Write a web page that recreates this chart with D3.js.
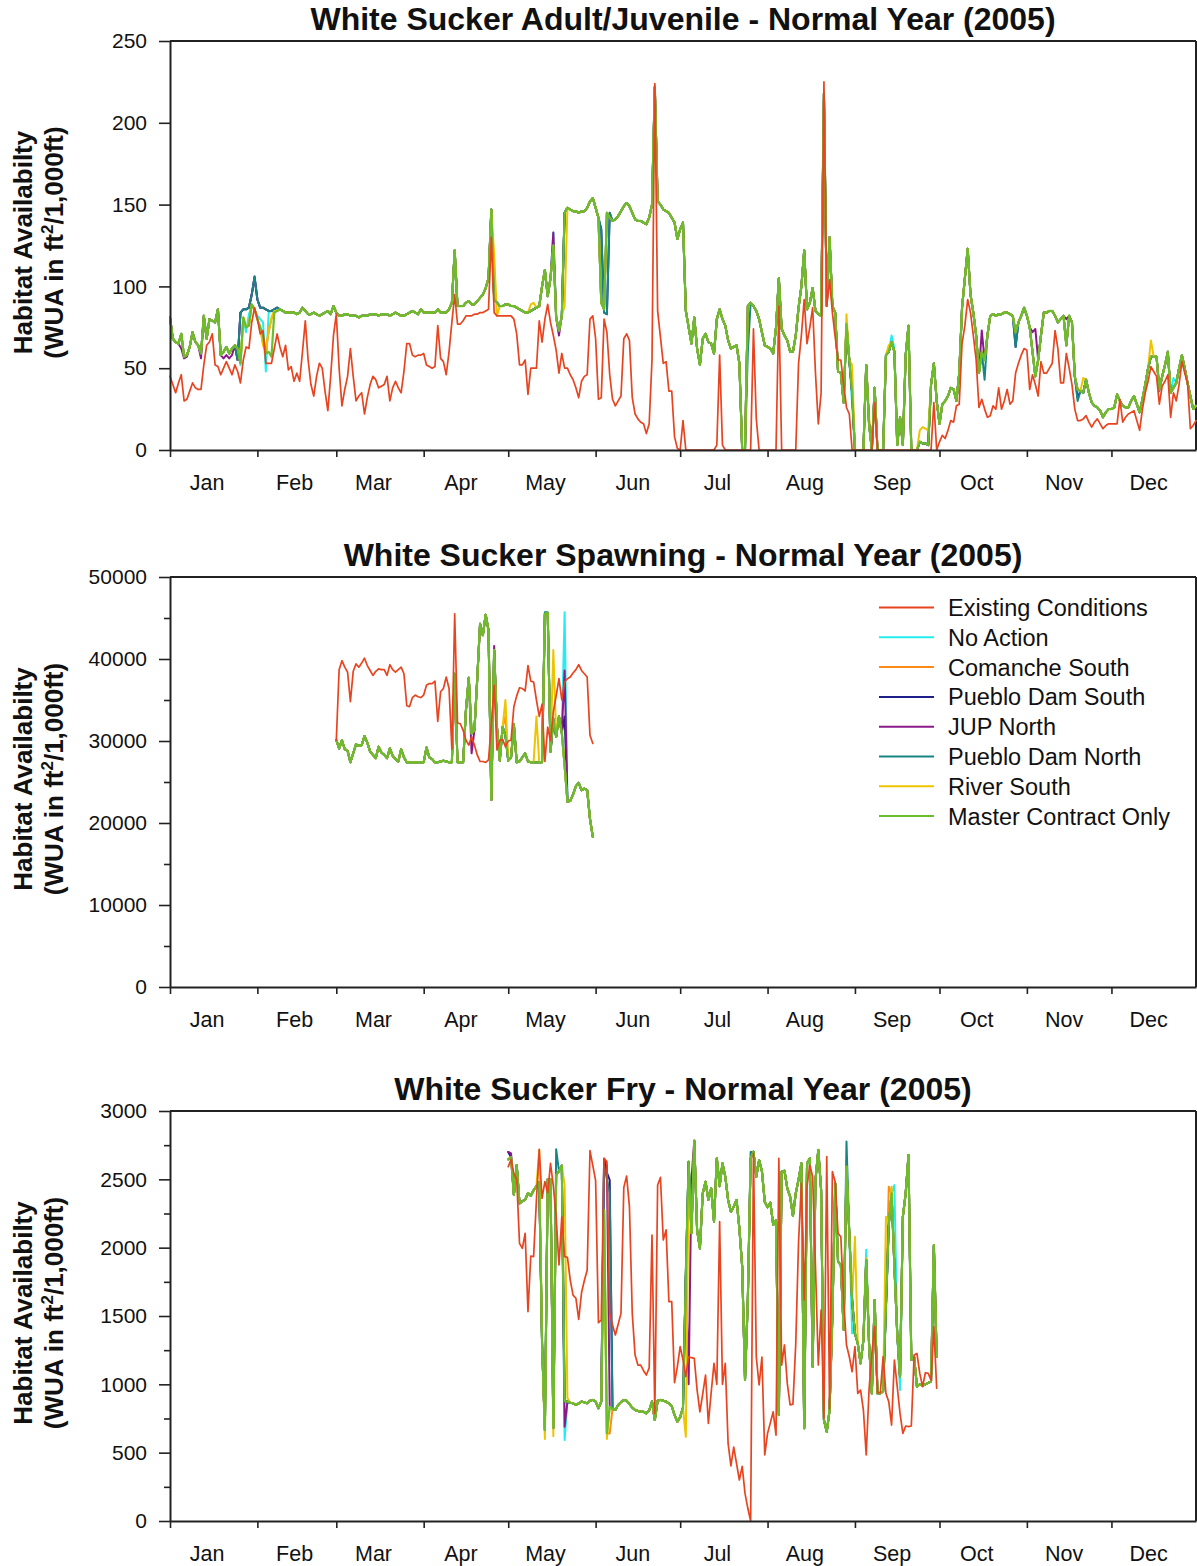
<!DOCTYPE html>
<html><head><meta charset="utf-8">
<script src="https://cdn.jsdelivr.net/npm/d3@7"></script>
<style>
body{margin:0;background:#fff}
svg{display:block}
text{font-family:"Liberation Sans",Arial,Helvetica,sans-serif;fill:#111}
</style>
</head><body>
<svg id="chart" width="1197" height="1566"></svg>
<script>
// ---------- categories / labels ----------
const monthLabels = ["Jan","Feb","Mar","Apr","May","Jun","Jul","Aug","Sep","Oct","Nov","Dec"];
const monthStartDays = [0,31,59,90,120,151,181,212,243,273,304,334];
const seriesNames = ["Existing Conditions","No Action","Comanche South","Pueblo Dam South","JUP North","Pueblo Dam North","River South","Master Contract Only"];
const seriesColors = ["#e8441f","#22eef2","#ff8a14","#1f1f8c","#8a1a8a","#178585","#eec400","#6cbd2b"];

// ---------- y tick values ----------
const adultYTicks = [0,50,100,150,200,250];
const adultYMinor = [];
const spawnYTicks = [0,10000,20000,30000,40000,50000];
const spawnYMinor = [5000,15000,25000,35000,45000];
const fryYTicks = [0,500,1000,1500,2000,2500,3000];
const fryYMinor = [250,750,1250,1750,2250,2750];

// ---------- Panel 1: Adult/Juvenile (daily, from Jan 1) ----------
const adultStartDay = 0;
const adultExisting = [
45,40,35,41,46,30,31,36,41,38, 37,37,52,64,66,71,52,51,46,50,
54,50,46,52,48,41,55,63,62,78, 87,80,71,73,53,53,53,62,71,63,
57,64,49,51,42,47,42,60,79,55, 40,33,45,53,50,36,24,45,70,83,
50,27,37,45,62,45,30,33,35,22, 32,40,45,43,38,39,40,45,30,38,
42,38,35,48,65,65,58,57,58,58, 59,52,51,50,51,76,56,54,46,60,
78,95,77,77,79,82,82,82,83,83, 84,84,85,86,130,84,82,82,82,82,
82,82,80,71,52,52,55,34,50,50, 50,79,66,80,89,78,70,61,47,59,
50,50,46,43,38,32,42,45,46,80, 82,68,31,32,80,72,46,31,27,30,
33,68,71,67,32,22,19,17,16,10, 16,55,224,85,69,53,54,36,36,8,
1,0,18,0,0,0,0,0,0,0, 0,0,0,0,3,58,3,0,0,0,
0,0,0,0,0,0,0,74,19,0, 0,0,0,0,0,0,88,0,0,0,
0,0,0,53,70,92,65,75,87,47, 16,35,225,88,104,84,69,55,55,40,
26,22,0,0,0,0,0,0,0,0, 29,0,0,0,0,0,0,0,0,0,
0,0,0,0,0,0,0,0,0,0, 0,29,0,5,9,7,12,18,17,27,
28,65,76,92,84,70,55,26,31,25, 20,21,27,25,38,25,30,37,28,30,
47,53,58,62,61,37,46,40,33,54, 47,47,50,53,73,62,41,41,59,50,
40,25,18,18,19,21,17,14,17,19, 16,13,15,16,16,16,16,31,17,20,
22,23,24,18,12,25,35,42,51,48, 45,28,39,42,46,20,35,30,40,54,
47,41,13,15,18];
const adultMaster = [
81,68,66,65,71,57,58,63,72,66, 64,59,82,68,80,79,78,86,58,60,
63,59,62,64,62,53,81,75,76,89, 86,80,75,70,59,60,57,84,85,86,
85,84,84,84,84,83,84,87,85,83, 83,84,83,82,83,84,85,83,88,84,
82,82,83,83,82,82,82,81,82,82, 82,83,83,83,82,83,83,83,82,83,
84,83,82,82,83,84,85,84,83,86, 84,84,84,84,84,86,84,84,84,86,
90,122,88,88,88,90,91,89,89,91, 93,95,99,105,147,92,90,88,88,89,
89,88,88,87,86,85,84,84,85,86, 87,88,100,110,94,105,125,81,73,82,
145,148,147,146,146,145,146,146,148,152, 154,148,142,90,86,145,142,140,141,143,
146,149,151,149,145,141,140,140,139,138, 142,150,222,152,150,147,146,145,142,139,
129,135,139,85,75,65,81,62,52,68, 71,66,65,59,80,86,80,76,67,62,
63,64,53,0,0,88,90,88,85,80, 72,64,63,62,59,75,105,74,70,67,
60,60,70,87,100,122,86,90,99,85, 83,82,218,88,130,88,84,48,47,29,
77,55,35,0,0,0,0,52,16,0, 38,0,0,0,58,60,66,60,3,20,
3,58,76,0,0,0,5,4,4,3, 40,53,30,16,28,30,33,38,37,30,
47,87,105,123,95,84,70,47,60,55, 70,82,83,82,83,83,84,84,83,82,
72,78,82,87,82,75,60,45,55,70, 84,84,85,85,82,78,80,82,64,82,
78,45,37,36,35,43,35,29,27,26, 24,20,23,25,25,26,34,30,27,26,
26,30,33,28,23,31,40,50,57,57, 57,37,45,52,60,35,38,41,50,58,
50,41,33,25,27];
// days where the other alternatives differ from Master Contract Only: [day, value]
const adultNoAction = [[25,52],[26,80],[27,72],[28,83],[29,88],[30,86],[31,82],[32,80],[33,78],[34,48],[35,84],[36,85],[37,85],[136,133],[242,28],[256,70],[257,62],[356,44]];
const adultComanche = [[33,65],[34,62],[35,72],[36,80],[37,85],[248,20]];
const adultPuebloSouth = [[24,55],[25,84],[26,86],[27,86],[28,87],[29,95],[30,106],[31,92],[32,87],[33,87],[34,86],[35,85],[36,85],[37,86],[38,87],[39,86],[40,85],[153,135],[154,84],[155,83],[156,145],[300,63],[322,32]];
const adultJupNorth = [[4,62],[5,56],[6,57],[11,56],[19,56],[20,58],[21,56],[22,58],[24,55],[25,84],[26,86],[27,86],[28,87],[29,95],[30,105],[31,92],[32,87],[33,87],[34,86],[35,85],[36,85],[37,86],[38,87],[39,86],[40,85],[136,133],[138,70],[288,73],[306,72],[307,74],[318,80]];
const adultPuebloNorth = [[24,55],[25,84],[26,86],[27,86],[28,87],[29,95],[30,106],[31,92],[32,87],[33,87],[34,86],[35,85],[36,85],[37,86],[38,87],[39,86],[40,85],[153,135],[154,84],[155,83],[156,145],[205,60],[289,43],[300,63],[322,30],[351,36]];
const adultRiverSouth = [[33,64],[34,60],[35,73],[36,81],[37,85],[115,120],[116,82],[128,89],[129,90],[140,88],[141,148],[240,83],[242,52],[255,64],[256,66],[266,12],[267,14],[268,13],[269,12],[324,44],[348,67],[349,57]];

// ---------- Panel 2: Spawning (daily, from Mar 1) ----------
const spawnStartDay = 59;
const spawnExisting = [
30100,38700,39800,39000,38400,34800,38500,39400,39000,39500,
40100,39200,38600,38000,38500,38800,38700,38700,38000,39300,
38700,38400,38700,39000,38200,34300,34200,35300,35600,35400,
35300,35600,36800,37000,37000,37300,32400,36000,36400,37800,
36400,29000,45500,32200,32100,31300,30100,29500,30500,29500,
28300,27500,27500,27400,27700,32000,36800,28900,30100,30200,
29300,30000,30100,34200,35500,36500,36400,36100,39200,37300,
37200,35000,33000,34500,27500,31700,30000,33600,35500,37600,
35000,37200,37600,37800,38300,38700,39300,38600,38200,37800,
30700,29700];
const spawnMaster = [
30100,29100,30100,29000,28800,27400,28500,29600,29400,29500,
30600,29800,28700,28300,27900,29300,28600,28300,27900,29100,
28200,27800,27500,29000,28000,27400,27400,27400,27400,27400,
27400,27400,29200,28000,27800,27400,27400,27500,27600,27500,
27400,27400,38200,27400,27400,27400,33800,37700,30900,31300,
37600,44300,42900,45400,43500,22800,41100,31700,27600,31700,
30700,27600,28000,32000,27400,27500,28000,28500,27500,27400,
27400,27400,27400,27400,45500,45600,28700,32700,30500,33000,
31000,27000,22600,22700,23500,24500,24900,24000,24200,24000,
20500,18300];
const spawnNoAction = [[140,45700],[141,22600]];
const spawnComanche = [[119,33000]];
const spawnPuebloSouth = [[140,33000]];
const spawnJupNorth = [[107,28500],[115,41600],[140,38600]];
const spawnPuebloNorth = [[133,45700],[134,45700]];
const spawnRiverSouth = [[119,35000],[130,33000],[136,41100]];

// ---------- Panel 3: Fry (daily, from May 1) ----------
const fryStartDay = 120;
const fryExisting = [
2593,2646,2544,2500,2032,1995,2105,1532,1939,1935,
2349,2720,2360,2483,2402,2617,2450,2227,1873,2227,
1934,1930,1763,1653,1630,1475,1670,1760,1835,2710,
2600,2490,1451,1470,2654,2630,1519,1434,1361,1440,
1519,2441,2524,2300,1519,1214,1141,1141,1100,1068,
1120,2092,787,2458,2514,2056,2130,1605,1605,1012,
1130,1276,1180,1056,1202,1195,1190,960,799,930,
1068,714,940,1153,1000,2190,1000,1153,568,403,
540,420,300,400,202,93,0,2690,1200,995,
1200,483,641,720,799,628,2654,1141,1288,1007,
849,855,1295,2044,2471,1617,2446,2605,2519,1861,
1141,1544,751,2666,824,2556,2483,2105,2080,1617,
1288,1202,1092,1276,934,958,812,483,958,1226,
1422,939,939,1202,934,873,702,1178,983,787,
641,695,690,695,1214,1226,1080,983,1085,1080,
1031,1422,971];
const fryMaster = [
2646,2661,2385,2605,2324,2340,2350,2400,2380,2420,
2450,2480,1300,665,2500,2500,680,2530,2560,2600,
876,874,865,861,849,860,874,868,861,880,
886,874,825,874,2275,641,836,820,812,849,
870,886,880,855,830,812,805,799,799,787,
810,874,739,880,886,880,874,860,840,775,
727,760,830,1800,2629,2105,2783,2129,1995,2397,
2483,2350,2434,2190,2654,2450,2617,2520,2349,2263,
2300,2349,2141,1861,1031,1617,2654,2702,2519,2641,
2560,2336,2295,2330,2166,2200,775,2556,2563,2434,
2373,2232,2397,2500,2617,678,2617,2654,1129,2495,
2715,2422,739,653,812,1500,2471,1898,1873,1399,
2593,2105,1617,1373,1300,1153,1324,1910,1300,934,
1617,934,934,950,1568,2166,2397,1861,1373,1056,
2227,2397,2678,1178,1200,983,1000,990,1000,1010,
1020,2019,1202];
const fryNoAction = [[139,2600],[140,593],[141,874],[242,1373],[247,1985],[257,2458],[259,958]];
const fryComanche = [[156,641],[255,2446]];
const fryPuebloSouth = [[120,2700],[154,2650],[155,2550],[156,2495],[157,820],[206,2650]];
const fryJupNorth = [[120,2700],[121,2690],[140,690],[154,2650],[155,2600],[184,1000],[185,2500]];
const fryPuebloNorth = [[137,2720],[154,2600],[155,2500],[156,2400],[206,2700],[240,2776]];
const fryRiverSouth = [[131,2715],[133,600],[136,620],[140,2458],[141,900],[155,600],[183,616],[184,2500],[243,2080],[247,1922],[254,2227],[256,2446]];

// ---------- drawing ----------
const svg = d3.select("#chart");
const x = d3.scaleLinear().domain([0, 364]).range([170, 1196]);

function build(start, base, overrides) {
  const m = new Map(overrides || []);
  return base.map((v, i) => ({d: start + i, v: m.has(start + i) ? m.get(start + i) : v}));
}

const panels = [
  {title: "White Sucker Adult/Juvenile - Normal Year (2005)", top: 41, bottom: 450, yMax: 250,
   majors: adultYTicks, minors: adultYMinor, start: adultStartDay, existing: adultExisting, master: adultMaster,
   alts: [adultNoAction, adultComanche, adultPuebloSouth, adultJupNorth, adultPuebloNorth, adultRiverSouth], legend: false},
  {title: "White Sucker Spawning - Normal Year (2005)", top: 577, bottom: 987, yMax: 50000,
   majors: spawnYTicks, minors: spawnYMinor, start: spawnStartDay, existing: spawnExisting, master: spawnMaster,
   alts: [spawnNoAction, spawnComanche, spawnPuebloSouth, spawnJupNorth, spawnPuebloNorth, spawnRiverSouth], legend: true},
  {title: "White Sucker Fry - Normal Year (2005)", top: 1111, bottom: 1521, yMax: 3000,
   majors: fryYTicks, minors: fryYMinor, start: fryStartDay, existing: fryExisting, master: fryMaster,
   alts: [fryNoAction, fryComanche, fryPuebloSouth, fryJupNorth, fryPuebloNorth, fryRiverSouth], legend: false}
];

panels.forEach(p => {
  const y = d3.scaleLinear().domain([0, p.yMax]).range([p.bottom, p.top]);
  const g = svg.append("g");

  // title
  g.append("text").attr("x", 683).attr("y", p.top - 11.5).attr("text-anchor", "middle")
    .style("font-size", "32px").style("font-weight", "bold").text(p.title);

  // y-axis label (two lines, rotated)
  const cy = (p.top + p.bottom) / 2 - 3;
  const yl = g.append("g").attr("transform", `translate(0,${cy}) rotate(-90)`);
  yl.append("text").attr("x", 0).attr("y", 32).attr("text-anchor", "middle")
    .style("font-size", "26px").style("font-weight", "bold").text("Habitat Availabilty");
  const t2 = yl.append("text").attr("x", 0).attr("y", 63).attr("text-anchor", "middle")
    .style("font-size", "26px").style("font-weight", "bold");
  t2.append("tspan").text("(WUA in ft");
  t2.append("tspan").attr("dy", -10).style("font-size", "17px").text("2");
  t2.append("tspan").attr("dy", 10).text("/1,000ft)");

  // frame: top and right
  g.append("line").attr("x1", 170).attr("x2", 1196).attr("y1", p.top).attr("y2", p.top)
    .attr("stroke", "#222").attr("stroke-width", 2);
  g.append("line").attr("x1", 1196).attr("x2", 1196).attr("y1", p.top).attr("y2", p.bottom)
    .attr("stroke", "#222").attr("stroke-width", 2);

  // data lines
  const line = d3.line().x(q => x(q.d)).y(q => y(q.v)).curve(d3.curveLinear);
  const lines = g.append("g").attr("fill", "none").attr("stroke-linejoin", "round").attr("stroke-linecap", "round");
  p.alts.forEach((ov, i) => {
    lines.append("path").datum(build(p.start, p.master, ov))
      .attr("d", line).attr("stroke", seriesColors[i + 1]).attr("stroke-width", 2);
  });
  lines.append("path").datum(build(p.start, p.master, []))
    .attr("d", line).attr("stroke", seriesColors[7]).attr("stroke-width", 2.2);
  lines.append("path").datum(build(p.start, p.existing, []))
    .attr("d", line).attr("stroke", seriesColors[0]).attr("stroke-width", 1.7);

  // y axis (major + minor)
  const yAxis = g.append("g").attr("transform", "translate(170,0)")
    .call(d3.axisLeft(y).tickValues(p.majors).tickSize(11).tickSizeOuter(0).tickPadding(12).tickFormat(d3.format("d")));
  if (p.minors.length) {
    g.append("g").attr("transform", "translate(170,0)")
      .call(d3.axisLeft(y).tickValues(p.minors).tickSize(6).tickSizeOuter(0).tickFormat(""))
      .call(s => s.select(".domain").remove());
  }
  // x axis
  const xAxis = g.append("g").attr("transform", `translate(0,${p.bottom})`)
    .call(d3.axisBottom(x).tickValues(monthStartDays).tickSize(7).tickSizeOuter(0).tickFormat(""));
  g.selectAll(".domain").attr("stroke", "#222").attr("stroke-width", 2);
  g.selectAll(".tick line").attr("stroke", "#222").attr("stroke-width", 1.6);
  yAxis.selectAll(".tick text").style("font-size", "21px").attr("fill", "#111");

  // month labels
  g.append("g").selectAll("text").data(monthLabels).join("text")
    .attr("x", (m, i) => x(monthStartDays[i] + 13.2)).attr("y", p.bottom + 39.5)
    .attr("text-anchor", "middle").style("font-size", "21.5px").text(m => m);

  // legend
  if (p.legend) {
    const lg = g.append("g");
    seriesNames.forEach((name, i) => {
      const ly = 607.5 + i * 29.8;
      lg.append("line").attr("x1", 879).attr("x2", 934).attr("y1", ly).attr("y2", ly)
        .attr("stroke", seriesColors[i]).attr("stroke-width", 2);
      lg.append("text").attr("x", 948).attr("y", ly + 8.5).style("font-size", "23.5px").text(name);
    });
  }
});
</script>
</body></html>
